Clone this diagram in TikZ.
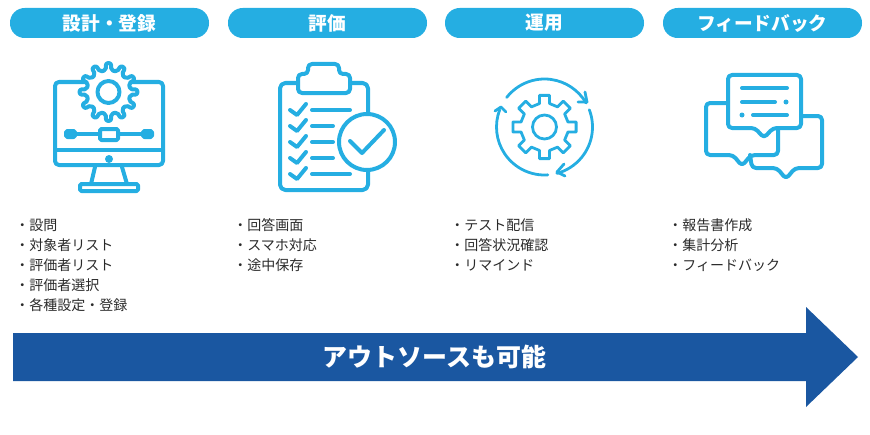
\documentclass[tikz,border=0pt]{standalone}
\usepackage{fontspec}
\usepackage{xcolor}
\usepackage{tikz}
\setmainfont{Noto Sans CJK JP}
\definecolor{myblue}{HTML}{25AEE2}
\definecolor{mynavy}{HTML}{1A57A1}
\definecolor{mytext}{HTML}{2A2A2A}
\tikzset{>=latex}
\tikzstyle{header}=[fill=myblue,rounded corners=11pt,minimum width=149.25pt,minimum height=22.5pt,inner sep=0,text=white,font=\fontsize{14}{16}\selectfont\bfseries]
\tikzstyle{items}=[anchor=north west,align=left,inner sep=0,text=mytext,font=\fontsize{10.5}{15}\selectfont]
\tikzstyle{icon}=[draw=myblue,line width=3pt,rounded corners=3pt,line cap=round,line join=round]
\tikzstyle{thin icon}=[draw=myblue,line width=2.1pt,line cap=round,line join=round]

\begin{document}
\begin{tikzpicture}[x=0.75pt,y=-0.75pt]
	\useasboundingbox (0,0) rectangle (870,435);
	% headers
	\node[header] (design) at (109.5,23) {\raisebox{-1pt}{設計・登録}};
	\node[header] (review) at (327.5,23) {\raisebox{-1pt}{評価}};
	\node[header] (operate) at (544.5,23) {\raisebox{-1pt}{運用}};
	\node[header] (feedback) at (762.5,23) {\raisebox{-1pt}{フィードバック}};
	% lists
	\node[items] (list1) at (15,216.5) {\strut・設問\\・対象者リスト\\・評価者リスト\\・評価者選択\\・各種設定・登録};
	\node[items] (list2) at (233,216.5) {\strut・回答画面\\・スマホ対応\\・途中保存};
	\node[items] (list3) at (450,216.5) {\strut・テスト配信\\・回答状況確認\\・リマインド};
	\node[items] (list4) at (668,216.5) {\strut・報告書作成\\・集計分析\\・フィードバック};
	% monitor
	\draw[icon] (55,82) rectangle (163,165);
	\draw[icon] (55,150) -- (163,150);
	\fill[myblue] (109,159) circle (4);
	\draw[icon,fill=myblue,rounded corners=1pt] (66,131) rectangle (75,137);
	\draw[icon,fill=myblue,rounded corners=1pt] (143,131) rectangle (152,137);
	\draw[icon] (75,134) -- (100,134) (118,134) -- (143,134);
	\draw[icon,rounded corners=1pt] (100,129) rectangle (118,140);
	\draw[icon,rounded corners=0pt] (95,167) -- (91,184) (122,167) -- (127,184);
	\draw[icon,rounded corners=1pt] (80,184) rectangle (138,191);
	\begin{scope}[shift={(108.5,92)}]
		\draw[icon,fill=white,rounded corners=1.5pt] (-7:22) \foreach \a in {0,30,...,330} {-- (\a-7:22) -- (\a-5:29) -- (\a+5:29) -- (\a+7:22)} -- cycle;
		\draw[icon] (0,0) circle (11);
	\end{scope}
	% clipboard
	\draw[icon,rounded corners=4pt] (298,83) -- (280,83) -- (280,190) -- (368,190) -- (368,83) -- (350,83);
	\draw[icon,fill=white] (298,93) -- (298,74) -- (308,74) -- (308,64) -- (339,64) -- (339,74) -- (350,74) -- (350,93) -- cycle;
	\foreach \y/\e in {110/350,126/333,142/333,158/333,174/350} {
		\draw[icon,rounded corners=0pt] (290,\y) -- (297,\y+5) -- (306,\y-6);
		\draw[icon,rounded corners=0pt] (312,\y) -- (\e,\y);
	}
	\draw[icon,fill=white] (367,142) circle (28);
	\draw[icon,rounded corners=0pt] (350,141) -- (362,153) -- (384,130);
	% rotating gear
	\begin{scope}[shift={(544.5,127)}]
		\draw[thin icon,fill=white] (-12:24) \foreach \a in {0,45,...,315} {-- (\a-12:24) -- (\a-9:32) -- (\a+9:32) -- (\a+12:24)} -- cycle;
		\draw[thin icon] (0,0) circle (12);
		\draw[thin icon] (-142:48) arc (-142:-30:48);
		\draw[thin icon] (-21:48) arc (-21:75:48);
		\draw[thin icon] (86:48) arc (86:201:48);
	\end{scope}
	\draw[thin icon] (578,102) -- (587,102) -- (585,92);
	\draw[thin icon] (564,164) -- (557,172) -- (565,176);
	\draw[thin icon] (495,111) -- (501,107) -- (506,112);
	% chat bubbles
	\draw[icon] (728,103) -- (706,103) -- (706,155) -- (733,155) -- (742,166) -- (751,155) -- (778,155) -- (778,128);
	\draw[icon] (801,116) -- (822,116) -- (822,168) -- (795,168) -- (786,179) -- (777,168) -- (752,168) -- (750,155);
	\draw[icon,fill=white] (728,75) -- (801,75) -- (801,128) -- (773,128) -- (764,138) -- (755,128) -- (728,128) -- cycle;
	\draw[icon] (742,88) -- (787,88) (742,102) -- (775,102) (753,115) -- (787,115);
	\fill[myblue] (786,102) circle (2.5) (742,115) circle (2.5);
	% arrow
	\fill[mynavy] (13,333) -- (806,333) -- (806,307) -- (858,357) -- (806,407) -- (806,381) -- (13,381) -- cycle;
	\node[text=white,inner sep=0,font=\fontsize{18.7}{22}\selectfont\bfseries] (outsource) at (434.5,357) {アウトソースも可能};
\end{tikzpicture}
\end{document}
